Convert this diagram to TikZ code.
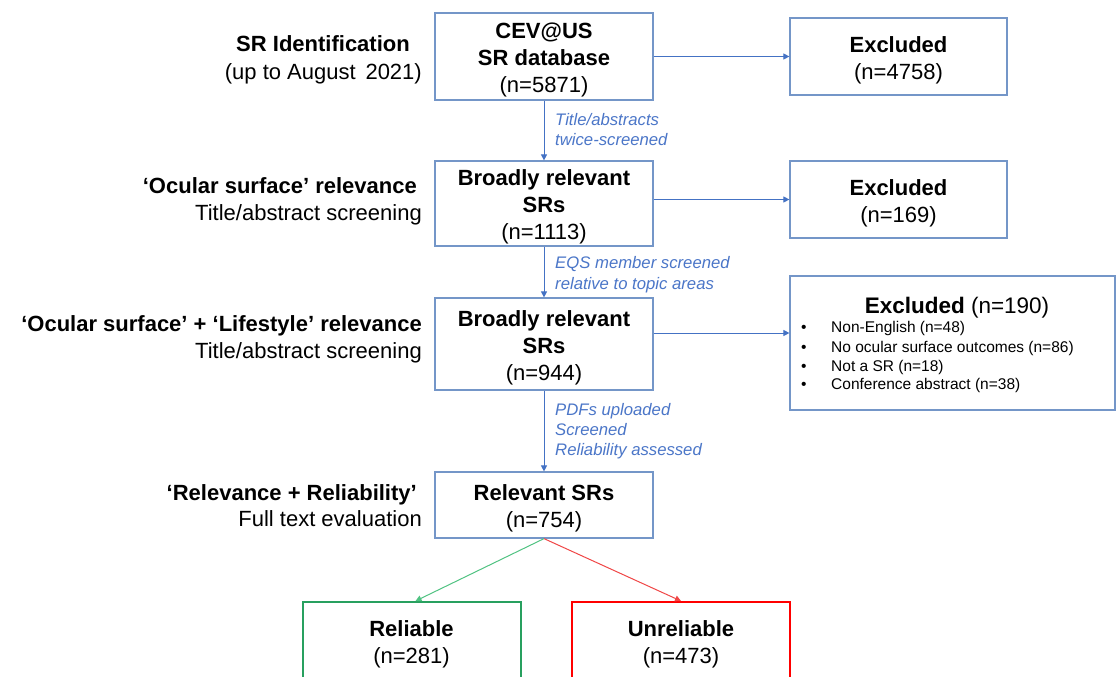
\documentclass[tikz,border=0pt]{standalone}
\usepackage{fontspec}
\setmainfont{Liberation Sans}
\usetikzlibrary{arrows.meta}
\definecolor{boxblue}{RGB}{116,150,200}
\definecolor{arrblue}{RGB}{68,114,196}
\definecolor{lblblue}{RGB}{75,118,200}
\definecolor{relgreen}{RGB}{40,160,95}
\definecolor{lgreen}{RGB}{80,195,130}
\definecolor{relred}{RGB}{255,0,0}
\definecolor{lred}{RGB}{240,70,70}
\tikzset{
  box/.style={draw=boxblue, line width=1.2pt, minimum width=218pt, inner sep=0pt},
  lbl/.style={yshift=-3.5pt, align=center, inner sep=0pt, font=\fontsize{22}{27}\selectfont},
  lbl0/.style={align=center, inner sep=0pt, font=\fontsize{22}{27}\selectfont},
  arr/.style={draw=arrblue, line width=1pt, -{Triangle[length=6pt,width=6pt]}},
  lab/.style={anchor=base east, inner sep=0pt, font=\fontsize{22}{27}\selectfont},
  note/.style={anchor=base west, inner sep=0pt, text=lblblue, font=\fontsize{16.7}{20}\selectfont\itshape},
  item/.style={anchor=base west, inner sep=0pt, font=\fontsize{15.5}{19}\selectfont},
}
\begin{document}
\begin{tikzpicture}[x=1pt,y=-1pt]
\useasboundingbox (0,0) rectangle (1116,677);
\clip (0,0) rectangle (1116,677);
\fill[white] (0,0) rectangle (1116,677);
% main boxes
\node[box, minimum height=87pt, label={[lbl]center:{\textbf{CEV@US}\\\textbf{SR database}\\(n=5871)}}] (b1) at (544,56.5) {};
\node[box, minimum height=85pt, label={[lbl]center:{\textbf{Broadly relevant}\\\textbf{SRs}\\(n=1113)}}] (b2) at (544,203.5) {};
\node[box, minimum height=92pt, label={[lbl]center:{\textbf{Broadly relevant}\\\textbf{SRs}\\(n=944)}}] (b3) at (544,344) {};
\node[box, minimum height=66pt, label={[lbl]center:{\textbf{Relevant SRs}\\(n=754)}}] (b4) at (544,505) {};
% excluded boxes
\node[box, minimum width=217pt, minimum height=77pt, label={[lbl]center:{\textbf{Excluded}\\(n=4758)}}] (e1) at (898.5,56.5) {};
\node[box, minimum width=217pt, minimum height=77pt, label={[lbl]center:{\textbf{Excluded}\\(n=169)}}] (e2) at (898.5,199.5) {};
\node[box, minimum width=325pt, minimum height=134pt] (e3) at (952.5,343) {};
\node[anchor=base, inner sep=0pt, font=\fontsize{22.5}{27}\selectfont] (e3t) at (957,313) {\textbf{Excluded} (n=190)};
\node[item] (i1b) at (801,332.5) {•};
\node[item] (i1) at (831,332.5) {Non-English (n=48)};
\node[item] (i2b) at (801,352) {•};
\node[item] (i2) at (831,352) {No ocular surface outcomes (n=86)};
\node[item] (i3b) at (801,371) {•};
\node[item] (i3) at (831,371) {Not a SR (n=18)};
\node[item] (i4b) at (801,389.5) {•};
\node[item] (i4) at (831,389.5) {Conference abstract (n=38)};
% result boxes
\node[box, draw=relgreen, line width=2pt, minimum height=84pt, label={[lbl0]center:{\textbf{Reliable}\\(n=281)}}] (r) at (411.5,644) {};
\node[box, draw=relred, line width=2pt, minimum height=84pt, label={[lbl0]center:{\textbf{Unreliable}\\(n=473)}}] (u) at (681,644) {};
% left labels
\node[lab] (l1a) at (410,52) {\textbf{SR Identification}};
\node[lab] (l1b) at (422,79) {(up to August \,2021)};
\node[lab] (l2a) at (417,193) {\textbf{‘Ocular surface’ relevance}};
\node[lab] (l2b) at (422,220) {Title/abstract screening};
\node[lab] (l3a) at (422,331) {\textbf{‘Ocular surface’ + ‘Lifestyle’ relevance}};
\node[lab] (l3b) at (422,358) {Title/abstract screening};
\node[lab] (l4a) at (417,500) {\textbf{‘Relevance + Reliability’}};
\node[lab] (l4b) at (422,526) {Full text evaluation};
% blue notes
\node[note] (n1a) at (555,125) {Title/abstracts};
\node[note] (n1b) at (555,145) {twice-screened};
\node[note] (n2a) at (555,268) {EQS member screened};
\node[note] (n2b) at (555,289) {relative to topic areas};
\node[note] (n3a) at (555,415) {PDFs uploaded};
\node[note] (n3b) at (555,435) {Screened};
\node[note] (n3c) at (555,455) {Reliability assessed};
% connectors
\draw[arr] (b1.south) -- (b2.north);
\draw[arr] (b2.south) -- (b3.north);
\draw[arr] (b3.south) -- (b4.north);
\draw[arr] (b1.east) -- (e1.west);
\draw[arr] (e2.west -| b2.east) -- (e2.west);
\draw[arr] ([yshift=11pt]b3.east) -- ([yshift=11pt]b3.east -| e3.west);
\draw[draw=lgreen, line width=1pt, -{Triangle[length=6pt,width=6pt]}] (b4.south) -- ([xshift=4pt]r.north);
\draw[draw=lred, line width=1pt, -{Triangle[length=6pt,width=6pt]}] (b4.south) -- (u.north);
\end{tikzpicture}
\end{document}
